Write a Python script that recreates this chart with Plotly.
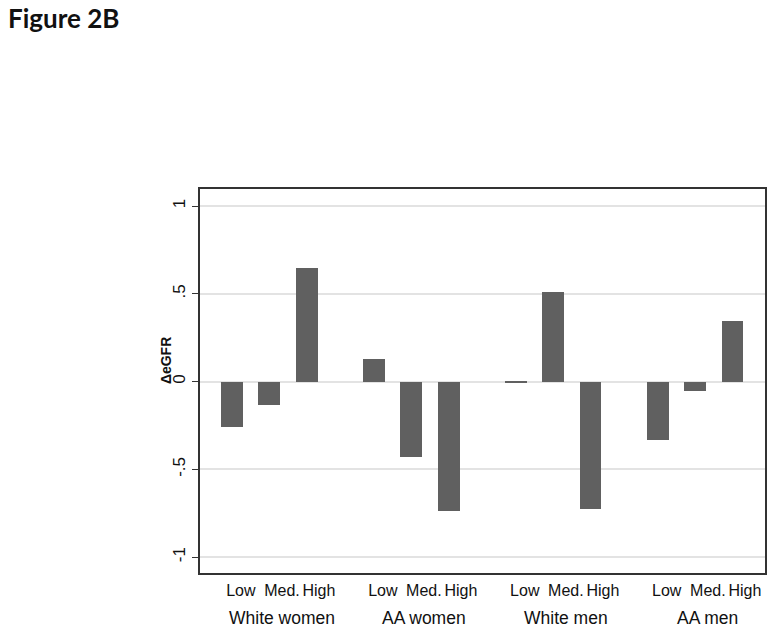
import plotly.graph_objects as go

groups = ["White women", "AA women", "White men", "AA men"]
levels = ["Low", "Med.", "High"]
values = [
    [-0.256, -0.131, 0.646],
    [0.131, -0.430, -0.735],
    [-0.010, 0.510, -0.725],
    [-0.333, -0.055, 0.343],
]
y_ticks = [-1, -0.5, 0, 0.5, 1]
y_ticktext = ["-1", "-.5", "0", ".5", "1"]

GROUP_STRIDE = 3.8
LEVEL_LABEL_SHIFT = [0.24, 0.34, 0.33]

xs, ys = [], []
for g, row in enumerate(values):
    for j, v in enumerate(row):
        xs.append(g * GROUP_STRIDE + j)
        ys.append(v)

fig = go.Figure()
fig.add_trace(go.Bar(x=xs, y=ys, width=0.587, marker=dict(color="#606060", line=dict(width=0)),
                     showlegend=False))

tickvals, ticktext = [], []
for g in range(len(groups)):
    for j, lv in enumerate(levels):
        tickvals.append(g * GROUP_STRIDE + j + LEVEL_LABEL_SHIFT[j])
        ticktext.append(lv)

for g, name in enumerate(groups):
    fig.add_annotation(x=g * GROUP_STRIDE + 1 + 0.33, y=0, xref="x", yref="paper",
                       yshift=-45, text=name, showarrow=False, yanchor="middle",
                       font=dict(family="Liberation Sans", size=17.5, color="#111"))

PLOT_W = 776 - 200 - 9
PLOT_H = 631 - 189 - 58
fig.add_annotation(x=-195 / PLOT_W, y=(631 - 58 - 18) / PLOT_H, xref="paper", yref="paper",
                   xanchor="left", yanchor="middle", text="<b>Figure 2B</b>", showarrow=False,
                   font=dict(family="Lato", size=26, color="#111"))

fig.add_annotation(x=-34 / PLOT_W, y=(631 - 58 - 361) / PLOT_H, xref="paper", yref="paper",
                   xanchor="center", yanchor="middle", textangle=-90, text="<b>ΔeGFR</b>",
                   showarrow=False, font=dict(family="Liberation Sans", size=14, color="#111"))

fig.update_layout(
    width=776, height=631,
    margin=dict(l=200, r=9, t=189, b=58),
    paper_bgcolor="white", plot_bgcolor="white",
    bargap=0,
)
fig.update_xaxes(range=[-0.853, 14.27], tickvals=tickvals, ticktext=ticktext,
                 showgrid=False, zeroline=False, ticks="", showline=True, mirror=True,
                 linecolor="#333", linewidth=1.5, ticklabelstandoff=2,
                 tickfont=dict(family="Liberation Sans", size=16, color="#111"))
fig.update_yaxes(range=[-1.09, 1.097], tickvals=y_ticks, ticktext=y_ticktext, tickangle=-90,
                 showgrid=True, gridcolor="#e3e3e3", gridwidth=1.5, zeroline=False,
                 ticks="outside", ticklen=6, tickcolor="#333", showline=True, mirror=True,
                 linecolor="#333", linewidth=1.5,
                 tickfont=dict(family="Liberation Sans", size=17, color="#111"))

fig.write_html("out.html", config={"displayModeBar": False},
               post_script="document.body.style.margin='0';")
